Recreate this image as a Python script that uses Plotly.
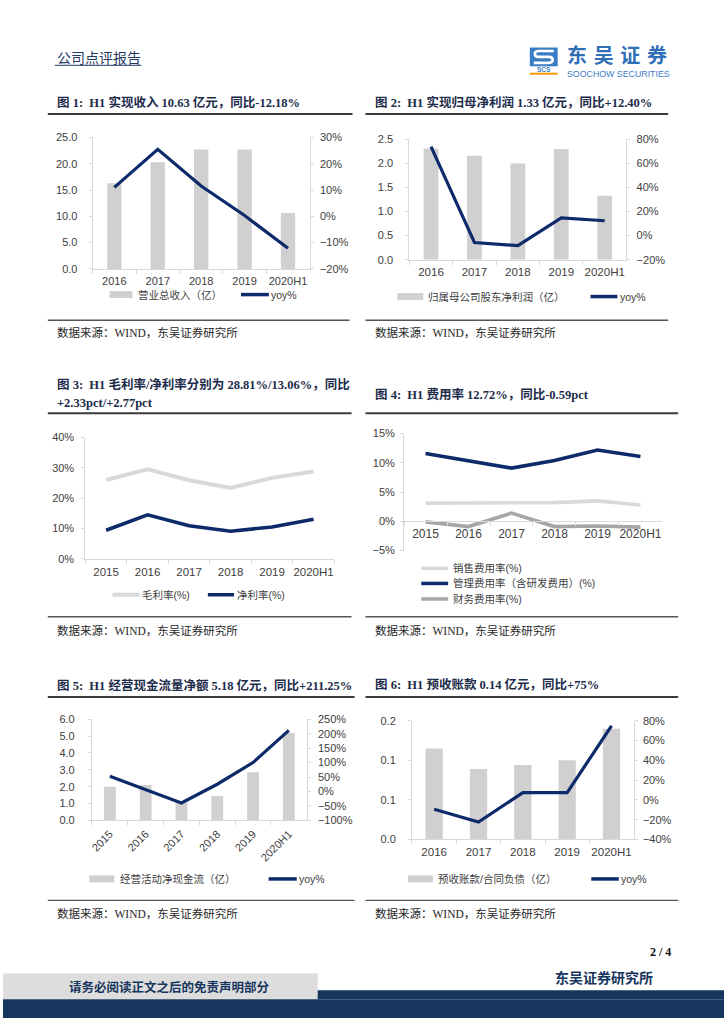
import plotly.graph_objects as go

W, H = 724, 1024
def X(px): return px / W
def Y(py): return 1 - py / H

# ---------------- data ----------------
cats_a = ['2016', '2017', '2018', '2019', '2020H1']
cats_b = ['2015', '2016', '2017', '2018', '2019', '2020H1']

revenue = [16.3, 20.3, 22.7, 22.7, 10.63]
revenue_yoy = [11.0, 25.5, 11.5, 0.3, -12.18]

net_profit = [2.31, 2.16, 2.00, 2.30, 1.33]
net_profit_yoy = [74.0, -5.7, -8.3, 14.8, 12.40]

gross_margin = [26.0, 29.5, 25.9, 23.4, 26.7, 28.81]
net_margin = [9.4, 14.5, 10.9, 9.1, 10.5, 13.06]

sales_rate = [3.1, 3.1, 3.2, 3.2, 3.5, 2.8]
admin_rate = [11.6, 10.3, 9.1, 10.4, 12.2, 11.1]
fin_rate = [-0.1, -0.9, 1.4, -0.9, -0.8, -1.0]

cfo = [2.0, 2.1, 1.1, 1.45, 2.85, 5.18]
cfo_yoy = [53, 7, -40, 25, 100, 211.25]

adv = [0.115, 0.089, 0.094, 0.100, 0.14]
adv_yoy = [-9.5, -22.5, 7.3, 7.3, 75.0]
adv_tickvals = [0, 0.05, 0.10, 0.15]
adv_ticktext = ['0.0', '0.1', '0.1', '0.2']

titles = [
    '图 1:  H1 实现收入 10.63 亿元，同比-12.18%',
    '图 2:  H1 实现归母净利润 1.33 亿元，同比+12.40%',
    '图 3:  H1 毛利率/净利率分别为 28.81%/13.06%，同比',
    '+2.33pct/+2.77pct',
    '图 4:  H1 费用率 12.72%，同比-0.59pct',
    '图 5:  H1 经营现金流量净额 5.18 亿元，同比+211.25%',
    '图 6:  H1 预收账款 0.14 亿元，同比+75%',
]
source_text = '数据来源：WIND，东吴证券研究所'

# ---------------- styles ----------------
NAVY = '#0d2b6b'
BAR = '#d0d0d0'
LGRAY = '#d9d9d9'
MGRAY = '#a6a6a6'
AX = '#d9d9d9'
TXT = '#404040'
def tfont(size=11):
    return dict(family='Liberation Sans, Arial, sans-serif', size=size, color=TXT)
CJK = 'Noto Sans CJK SC'
TITLEFONT = dict(family='Liberation Serif, ' + CJK, size=12.5, color='#1c2b4a')
LEGFONT = dict(family='Liberation Sans, ' + CJK, size=10.5, color=TXT)
SRCFONT = dict(family='Liberation Serif, ' + CJK, size=11.5, color='#262626')

fig = go.Figure()

def bar(x, y, xa, ya, w):
    fig.add_trace(go.Bar(x=x, y=y, xaxis=xa, yaxis=ya, width=w,
                         marker=dict(color=BAR, line=dict(width=0)), hoverinfo='skip'))

def line(x, y, xa, ya, color, width=3.2):
    fig.add_trace(go.Scatter(x=x, y=y, xaxis=xa, yaxis=ya, mode='lines',
                             line=dict(color=color, width=width), hoverinfo='skip'))

# chart 1
bar(cats_a, revenue, 'x', 'y', 0.33)
line(cats_a, revenue_yoy, 'x', 'y2', NAVY)
# chart 2
bar(cats_a, net_profit, 'x2', 'y3', 0.34)
line(cats_a, net_profit_yoy, 'x2', 'y4', NAVY)
# chart 3
line(cats_b, gross_margin, 'x3', 'y5', LGRAY, 4)
line(cats_b, net_margin, 'x3', 'y5', NAVY, 3.6)
# chart 4
line(cats_b, sales_rate, 'x4', 'y6', LGRAY, 3.6)
line(cats_b, admin_rate, 'x4', 'y6', NAVY, 3.6)
line(cats_b, fin_rate, 'x4', 'y6', MGRAY, 3.6)
# chart 5
bar(cats_b, cfo, 'x5', 'y7', 0.33)
line(cats_b, cfo_yoy, 'x5', 'y8', NAVY)
# chart 6
bar(cats_a, adv, 'x6', 'y9', 0.39)
line(cats_a, adv_yoy, 'x6', 'y10', NAVY)

def xax(x0, x1, anchor, cats, angle=0, position=None, standoff=2, fsize=11):
    d = dict(domain=[X(x0), X(x1)], type='category', categoryorder='array',
             categoryarray=cats, range=[-0.5, len(cats) - 0.5], showline=True,
             linecolor=AX, linewidth=1, ticks='outside', tickson='boundaries',
             ticklen=4, tickcolor=AX, showgrid=False, zeroline=False,
             tickfont=tfont(fsize), fixedrange=True, tickangle=angle,
             ticklabelstandoff=standoff)
    if position is not None:
        d['anchor'] = 'free'
        d['position'] = position
    else:
        d['anchor'] = anchor
    return d

def yax(top, bot, rng, anchor, dtick=None, fmt=None, suffix='', side='left',
        overlay=None, standoff=5, tickvals=None, ticktext=None, fsize=11):
    d = dict(domain=[Y(bot), Y(top)], range=rng, showline=True, linecolor=AX,
             linewidth=1, ticks='outside', ticklen=3, tickcolor=AX, showgrid=False,
             zeroline=False, ticksuffix=suffix, anchor=anchor, side=side,
             tickfont=tfont(fsize), fixedrange=True, ticklabelstandoff=standoff)
    if dtick is not None:
        d['dtick'] = dtick
        d['tick0'] = rng[0]
    if fmt:
        d['tickformat'] = fmt
    if overlay:
        d['overlaying'] = overlay
    if tickvals is not None:
        d['tickmode'] = 'array'
        d['tickvals'] = tickvals
        d['ticktext'] = ticktext
    return d

layout = dict(
    width=W, height=H, margin=dict(l=0, r=0, t=0, b=0, pad=0),
    paper_bgcolor='white', plot_bgcolor='rgba(0,0,0,0)', showlegend=False,
    hovermode=False,
    xaxis=xax(90, 308, 'y', cats_a),
    yaxis=yax(133, 266, [0, 25], 'x', 5, '.1f', standoff=9),
    yaxis2=yax(133, 266, [-20, 30], 'x', 10, None, '%', 'right', 'y', standoff=4),
    xaxis2=xax(408, 626, 'y3', cats_a, fsize=11.5),
    yaxis3=yax(135, 256.7, [0, 2.5], 'x2', 0.5, '.1f', standoff=10),
    yaxis4=yax(135, 256.7, [-20, 80], 'x2', 20, None, '%', 'right', 'y3', standoff=4),
    xaxis3=xax(82.7, 332.7, 'y5', cats_b, fsize=11.5),
    yaxis5=yax(436.7, 559.3, [0, 40], 'x3', 10, None, '%', standoff=5),
    xaxis4=xax(402.7, 661.7, 'y6', cats_b, position=Y(521), fsize=12),
    yaxis6=yax(432.7, 551, [-5, 15], 'x4', 5, None, '%', standoff=3),
    xaxis5=xax(89.3, 305, 'y7', cats_b, angle=-45),
    yaxis7=yax(721.7, 824, [0, 6], 'x5', 1, '.1f', standoff=11),
    yaxis8=yax(721.7, 824, [-100, 250], 'x5', 50, None, '%', 'right', 'y7', standoff=5),
    xaxis6=xax(410.7, 633.3, 'y9', cats_a, fsize=11.5),
    yaxis9=yax(723.3, 843.3, [0, 0.15], 'x6', standoff=10,
               tickvals=adv_tickvals, ticktext=adv_ticktext),
    yaxis10=yax(723.3, 843.3, [-40, 80], 'x6', 20, None, '%', 'right', 'y9', standoff=3),
)
fig.update_layout(**layout)

shapes = []
ann = []

def hline(x0, x1, y, color, width):
    shapes.append(dict(type='line', xref='paper', yref='paper', x0=X(x0), x1=X(x1),
                       y0=Y(y), y1=Y(y), line=dict(color=color, width=width)))

def rect(x0, y0, x1, y1, color):
    shapes.append(dict(type='rect', xref='paper', yref='paper', x0=X(x0), x1=X(x1),
                       y0=Y(y1), y1=Y(y0), fillcolor=color, line=dict(width=0), layer='below'))

def text(x, y, s, font, xanchor='left'):
    ann.append(dict(xref='paper', yref='paper', x=X(x), y=Y(y), text=s, showarrow=False,
                    xanchor=xanchor, yanchor='middle', font=font))

# header
text(52, 52, '公司点评报告', dict(family=CJK, size=14, color='#1f3864'))
hline(52, 139, 60, '#1f3864', 1)
# logo
rect(529, 42, 557, 61, '#3b7dc4')
logo_path = ('M {a} {b} L {c} {b} Q {d} {b} {d} {e} Q {d} {f} {c} {f} L {g} {f} '
             'Q {h} {f} {h} {i} Q {h} {j} {g} {j} L {k} {j}').format(
    a=X(553), b=Y(45.5), c=X(538), d=X(534), e=Y(48.5), f=Y(51.5),
    g=X(548), h=X(552), i=Y(54.5), j=Y(57.5), k=X(533))
shapes.append(dict(type='path', xref='paper', yref='paper', path=logo_path,
                   line=dict(color='white', width=2.6)))
text(543, 64.3, '<b>SCS</b>', dict(family='Liberation Sans', size=6.5, color='#3b7dc4'), 'center')
hline(529, 557, 68.5, '#f39800', 2)
text(617, 49, '<b>东\u2004吴\u2004证\u2004券</b>', dict(family=CJK, size=20, color='#2f6fb8'), 'center')
text(618, 68.5, 'SOOCHOW SECURITIES', dict(family='Liberation Sans', size=8.8, color='#3d7cc9'), 'center')

# chart titles and dividers
text(52, 98, '<b>' + titles[0] + '</b>', TITLEFONT)
text(372, 98, '<b>' + titles[1] + '</b>', TITLEFONT)
text(52, 383, '<b>' + titles[2] + '</b>', TITLEFONT)
text(52, 402, '<b>' + titles[3] + '</b>', TITLEFONT)
text(372, 392.7, '<b>' + titles[4] + '</b>', TITLEFONT)
text(52, 687.3, '<b>' + titles[5] + '</b>', TITLEFONT)
text(372, 686.7, '<b>' + titles[6] + '</b>', TITLEFONT)

TL = '#3a3a3a'
hline(45, 351, 109.3, TL, 2)
hline(364, 668, 109.3, TL, 2)
hline(45, 350, 412, TL, 2)
hline(364, 678, 412, TL, 2)
hline(45, 353, 699.3, TL, 2)
hline(364, 678, 699.3, TL, 2)

BL = '#555555'
hline(45, 348, 318, BL, 1.3)
hline(364, 668, 318, BL, 1.3)
hline(45, 350, 618, BL, 1.3)
hline(364, 678, 618, BL, 1.3)
hline(45, 353, 905, BL, 1.3)
hline(364, 678, 905, BL, 1.3)

for (sx, sy) in [(52, 330), (372, 330), (52, 632), (372, 632), (52, 918), (372, 918)]:
    text(sx, sy, source_text, SRCFONT)

# legends
def leg_rect(x0, x1, y, label, tx):
    rect(x0, y - 3.5, x1, y + 3.5, BAR)
    text(tx, y, label, LEGFONT)

def leg_line(x0, x1, y, color, label, tx, width=3.5):
    shapes.append(dict(type='line', xref='paper', yref='paper', x0=X(x0), x1=X(x1),
                       y0=Y(y), y1=Y(y), line=dict(color=color, width=width)))
    text(tx, y, label, LEGFONT)

leg_rect(107, 130, 292, '营业总收入（亿）', 134)
leg_line(239, 267, 292, NAVY, 'yoy%', 267.5)
leg_rect(396, 422, 294, '归属母公司股东净利润（亿）', 425)
leg_line(590, 617, 294, NAVY, 'yoy%', 617.5)
leg_line(110, 137, 595.7, LGRAY, '毛利率(%)', 138, 4)
leg_line(205.7, 232, 595.7, NAVY, '净利率(%)', 233)
leg_line(420, 447, 569, LGRAY, '销售费用率(%)', 450)
leg_line(420, 447, 584.3, NAVY, '管理费用率（含研发费用）(%)', 450)
leg_line(420, 447, 600, MGRAY, '财务费用率(%)', 450)
leg_rect(86.7, 111.7, 883.3, '经营活动净现金流（亿）', 115)
leg_line(266.7, 295, 883.3, NAVY, 'yoy%', 295.5)
leg_rect(406.7, 431.7, 883.3, '预收账款/合同负债（亿）', 435)
leg_line(590.7, 618.3, 883.3, NAVY, 'yoy%', 618.5)

# footer
rect(0, 979, 316, 1005, '#dddddd')
rect(316, 996, 724, 1005, '#17365d')
rect(0, 1005, 724, 1024, '#17365d')
text(167, 992, '<b>请务必阅读正文之后的免责声明部分</b>', dict(family=CJK, size=12.5, color='#17365d'), 'center')
text(660, 957, '<b>2 / 4</b>', dict(family='Liberation Serif', size=12, color='#111111'), 'center')
text(603, 983, '<b>东吴证券研究所</b>', dict(family=CJK, size=14, color='#17365d'), 'center')

fig.update_layout(shapes=shapes, annotations=ann)
fig.write_html('out.html', config={'displayModeBar': False, 'staticPlot': True},
               post_script="document.body.style.margin='0';document.body.style.overflow='hidden';")
